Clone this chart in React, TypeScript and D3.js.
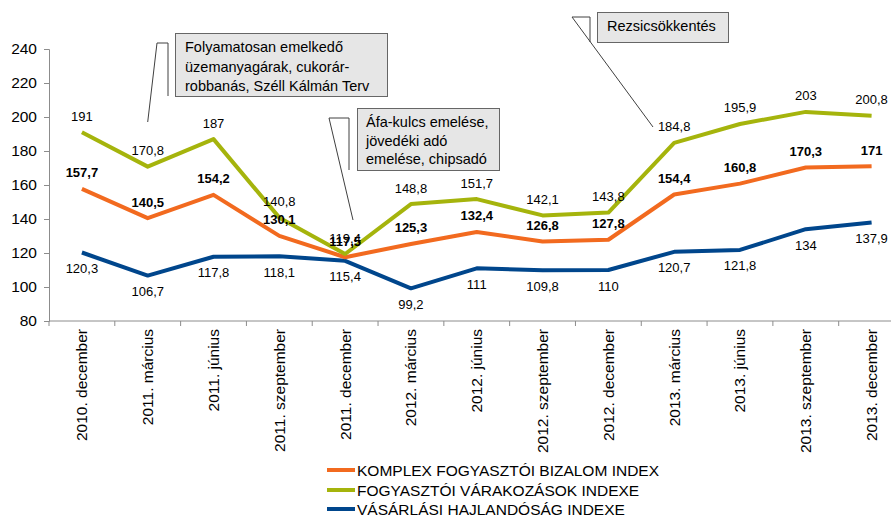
import { useRef, useEffect } from "react"
import * as d3 from "d3"

const categories = [
  "2010. december",
  "2011. március",
  "2011. június",
  "2011. szeptember",
  "2011. december",
  "2012. március",
  "2012. június",
  "2012. szeptember",
  "2012. december",
  "2013. március",
  "2013. június",
  "2013. szeptember",
  "2013. december",
]

const komplex = [157.7, 140.5, 154.2, 130.1, 117.5, 125.3, 132.4, 126.8, 127.8, 154.4, 160.8, 170.3, 171]
const varakozasok = [191, 170.8, 187, 140.8, 119.4, 148.8, 151.7, 142.1, 143.8, 184.8, 195.9, 203, 200.8]
const vasarlasi = [120.3, 106.7, 117.8, 118.1, 115.4, 99.2, 111, 109.8, 110, 120.7, 121.8, 134, 137.9]

const yTicks = [80, 100, 120, 140, 160, 180, 200, 220, 240]

const seriesNames = [
  "KOMPLEX FOGYASZTÓI BIZALOM INDEX",
  "FOGYASZTÓI VÁRAKOZÁSOK INDEXE",
  "VÁSÁRLÁSI HAJLANDÓSÁG INDEXE",
]

const notes = [
  ["Folyamatosan emelkedő", "üzemanyagárak, cukorár-", "robbanás, Széll Kálmán Terv"],
  ["Áfa-kulcs emelése,", "jövedéki adó", "emelése, chipsadó"],
  ["Rezsicsökkentés"],
]

const FONT = "'Liberation Sans', Arial, sans-serif"

const fmt = (v: number) => String(v).replace(".", ",")

export default function App() {
  const svgRef = useRef<SVGSVGElement>(null)

  useEffect(() => {
    if (!svgRef.current) return
    const svg = d3.select(svgRef.current)
    svg.selectAll("*").remove()

    const x = d3
      .scaleBand<number>()
      .domain(categories.map((_, i) => i))
      .range([49, 904.5])
    const cx = (i: number) => (x(i) as number) + x.bandwidth() / 2
    const y = d3.scaleLinear().domain([80, 240]).range([321, 49])

    const series = [
      { values: komplex, color: "#f26a1f", bold: true, below: false },
      { values: varakozasok, color: "#a5b40c", bold: false, below: false },
      { values: vasarlasi, color: "#00468c", bold: false, below: true },
    ]

    // axes
    const yAxis = svg
      .append("g")
      .attr("transform", "translate(49,0)")
      .call(d3.axisLeft(y).tickValues(yTicks).tickSize(5).tickPadding(7).tickFormat(d3.format("d")))
    yAxis.select(".domain").attr("stroke", "#8c8c8c")
    yAxis.selectAll(".tick line").attr("stroke", "#8c8c8c")
    yAxis.selectAll("text").attr("font-family", FONT).attr("font-size", 15.5).attr("fill", "#000")

    const xAxis = svg.append("g").attr("transform", "translate(0,321)")
    xAxis
      .append("line")
      .attr("x1", 49)
      .attr("x2", 904)
      .attr("stroke", "#8c8c8c")
    xAxis
      .selectAll("line.tk")
      .data(categories.map((_, i) => i).concat([categories.length]))
      .enter()
      .append("line")
      .attr("class", "tk")
      .attr("x1", (i) => 49 + i * x.bandwidth())
      .attr("x2", (i) => 49 + i * x.bandwidth())
      .attr("y2", 5)
      .attr("stroke", "#8c8c8c")
    xAxis
      .selectAll("text")
      .data(categories)
      .enter()
      .append("text")
      .attr("transform", (_, i) => `translate(${cx(i) + 5.5},8) rotate(-90)`)
      .attr("text-anchor", "end")
      .attr("font-family", FONT)
      .attr("font-size", 15.5)
      .attr("fill", "#000")
      .text((d) => d)

    // lines
    const lineGen = d3
      .line<number>()
      .x((_, i) => cx(i))
      .y((d) => y(d))

    const plotOrder = [2, 0, 1]
    plotOrder.forEach((k) => {
      const s = series[k]
      svg
        .append("path")
        .datum(s.values)
        .attr("fill", "none")
        .attr("stroke", s.color)
        .attr("stroke-width", 4)
        .attr("stroke-linejoin", "round")
        .attr("d", lineGen)
    })

    // data labels
    series.forEach((s) => {
      svg
        .append("g")
        .selectAll("text")
        .data(s.values)
        .enter()
        .append("text")
        .attr("x", (_, i) => cx(i))
        .attr("y", (d) => (s.below ? y(d) + 20.5 : y(d) - 11.5))
        .attr("text-anchor", "middle")
        .attr("font-family", FONT)
        .attr("font-size", 13)
        .attr("font-weight", s.bold ? "bold" : "normal")
        .attr("fill", "#000")
        .text((d) => fmt(d))
    })

    // annotation callouts
    const boxes = [
      { x: 175, y: 33, w: 212, h: 63, tx: 185, ty: 52, lh: 19.5, bar: 168, tip: [cx(1), 122], corner: 157 },
      { x: 357, y: 108, w: 142, h: 62, tx: 366, ty: 127, lh: 18.5, bar: 349, tip: [353, 220], corner: 329 },
      { x: 597, y: 12, w: 131, h: 30, tx: 607, ty: 31, lh: 19, bar: 590, tip: [653, 127], corner: 572 },
    ]
    boxes.forEach((b, k) => {
      const g = svg.append("g")
      const topY = b.y + (k === 2 ? 5 : 10)
      g.append("path")
        .attr("d", `M${b.bar},${b.y + b.h} L${b.bar},${topY} M${b.bar},${topY} L${b.corner},${topY} L${b.tip[0]},${b.tip[1]}`)
        .attr("fill", "none")
        .attr("stroke", "#404040")
        .attr("stroke-width", 1)
      g.append("rect")
        .attr("x", b.x + 0.5)
        .attr("y", b.y + 0.5)
        .attr("width", b.w)
        .attr("height", b.h)
        .attr("fill", "#e6e6e6")
        .attr("stroke", "#666")
        .attr("stroke-width", 1)
      g.selectAll("text")
        .data(notes[k])
        .enter()
        .append("text")
        .attr("x", b.tx)
        .attr("y", (_, j) => b.ty + j * b.lh)
        .attr("font-family", FONT)
        .attr("font-size", 14.5)
        .attr("fill", "#000")
        .text((d) => d)
    })

    // legend
    const legendY = [470, 490, 509]
    const lg = svg.append("g")
    series.forEach((s, k) => {
      lg.append("line")
        .attr("x1", 327)
        .attr("x2", 355)
        .attr("y1", legendY[k])
        .attr("y2", legendY[k])
        .attr("stroke", s.color)
        .attr("stroke-width", 4)
      lg.append("text")
        .attr("x", 357)
        .attr("y", legendY[k] + 5.5)
        .attr("font-family", FONT)
        .attr("font-size", 15.5)
        .attr("fill", "#000")
        .text(seriesNames[k])
    })
  }, [])

  return (
    <div style={{ position: "absolute", left: 0, top: 0 }}>
      <svg ref={svgRef} width={891} height={515} style={{ display: "block", background: "#fff" }}></svg>
    </div>
  )
}
